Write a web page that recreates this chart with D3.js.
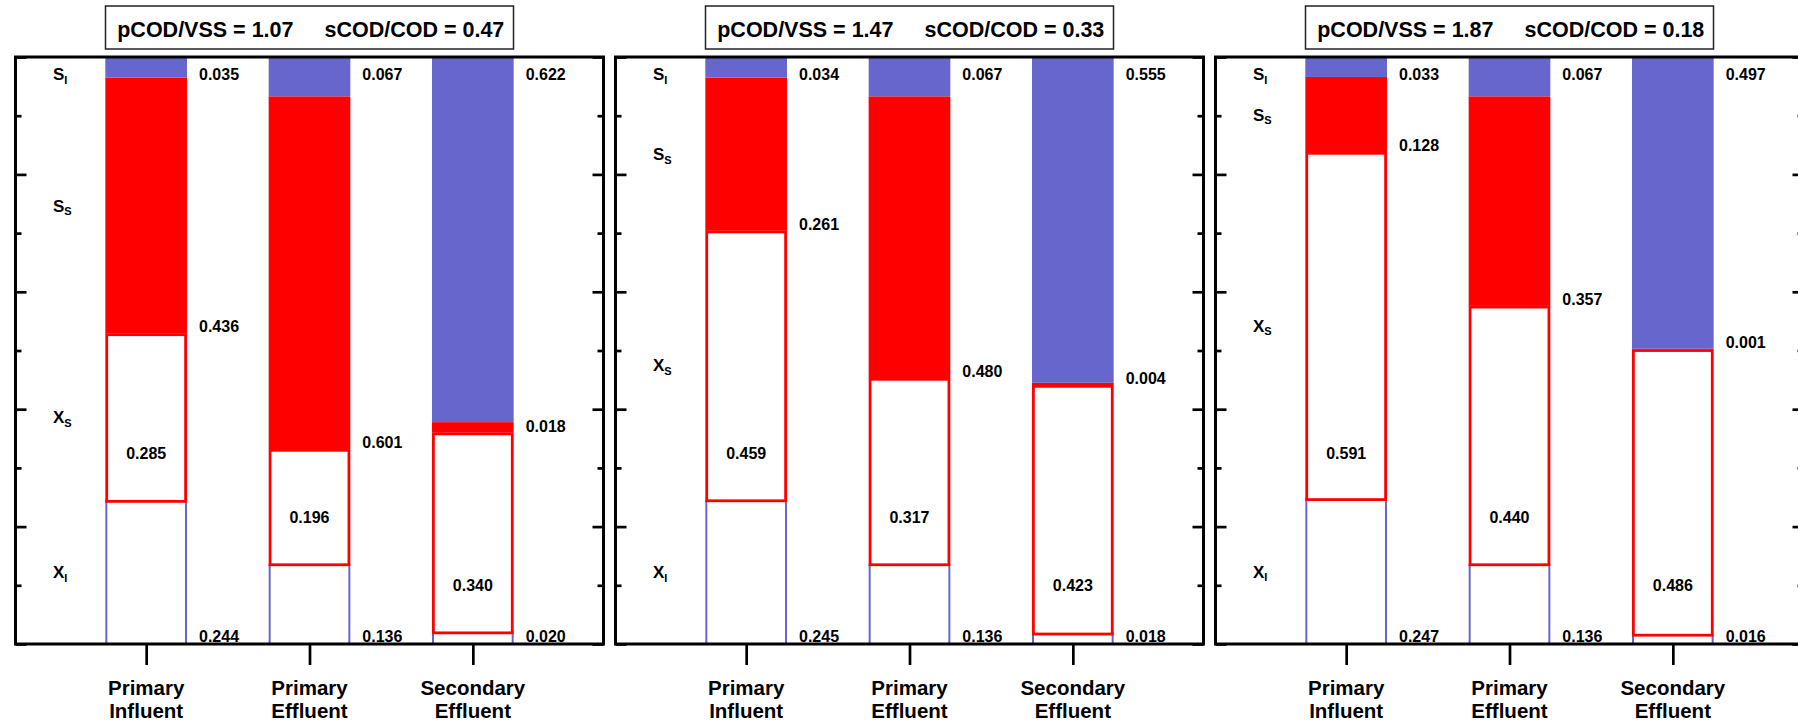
<!DOCTYPE html>
<html><head><meta charset="utf-8">
<script src="https://cdn.jsdelivr.net/npm/d3@7/dist/d3.min.js"></script>
<style>
body{margin:0;background:#fff}
svg{display:block}
text{font-family:"Liberation Sans",Arial,Helvetica,sans-serif;font-weight:bold;fill:#000}
</style>
</head><body>
<svg id="chart" width="1798" height="721"></svg>
<script>
// ---- data ----
const categories = ["Primary Influent", "Primary Effluent", "Secondary Effluent"];
const categoryLines = [["Primary", "Influent"], ["Primary", "Effluent"], ["Secondary", "Effluent"]];
const pCODVSS = ["1.07", "1.47", "1.87"];
const sCODCOD = ["0.47", "0.33", "0.18"];
// fractions per panel (rows) and category (columns), stacked bottom -> top
const XI = [[0.244, 0.136, 0.020], [0.245, 0.136, 0.018], [0.247, 0.136, 0.016]];
const XS = [[0.285, 0.196, 0.340], [0.459, 0.317, 0.423], [0.591, 0.440, 0.486]];
const SS = [[0.436, 0.601, 0.018], [0.261, 0.480, 0.004], [0.128, 0.357, 0.001]];
const SI = [[0.035, 0.067, 0.622], [0.034, 0.067, 0.555], [0.033, 0.067, 0.497]];
const speciesKeys = ["XI", "XS", "SS", "SI"];
const speciesLabels = [["X", "I"], ["X", "S"], ["S", "S"], ["S", "I"]];
const yMajorTicks = [0, 0.2, 0.4, 0.6, 0.8, 1.0];
const yMinorTicks = [0.1, 0.3, 0.5, 0.7, 0.9];

// ---- layout ----
const BLUE = "#6666cc", RED = "#ff0000";
const panelLeft0 = 15.5, panelStep = 600, panelW = 588;
const plotTop = 57, plotBottom = 644;
const innerLabelLevel = [0.325, 0.215, 0.1]; // where the X_S value sits inside each box

const svg = d3.select("#chart");
const y = d3.scaleLinear().domain([0, 1]).range([plotBottom, plotTop]);
const x = d3.scalePoint().domain(categories).range([0, panelW]).padding(0.8);
const barW = x.step() * 0.5;
const stack = d3.stack().keys(speciesKeys);

for (let p = 0; p < 3; p++) {
  const left = panelLeft0 + p * panelStep;
  const g = svg.append("g").attr("transform", `translate(${left},0)`);
  const rows = categories.map((c, j) => ({cat: c, XI: XI[p][j], XS: XS[p][j], SS: SS[p][j], SI: SI[p][j]}));
  const series = stack(rows);
  const byKey = {};
  series.forEach(s => byKey[s.key] = s);

  const bx = d => x(d.data.cat) - barW / 2;

  // X_I boxes: white with blue outline
  g.selectAll(".xi").data(byKey.XI).join("rect")
    .attr("x", d => bx(d) + 1).attr("width", barW - 2)
    .attr("y", d => y(d[1])).attr("height", d => y(d[0]) - y(d[1]))
    .attr("fill", "#fff").attr("stroke", BLUE).attr("stroke-width", 2);
  // S_S red fill
  g.selectAll(".ss").data(byKey.SS).join("rect")
    .attr("x", d => bx(d)).attr("width", barW)
    .attr("y", d => y(d[1])).attr("height", d => y(d[0]) - y(d[1]))
    .attr("fill", RED);
  // S_I blue fill
  g.selectAll(".si").data(byKey.SI).join("rect")
    .attr("x", d => bx(d)).attr("width", barW)
    .attr("y", d => y(d[1])).attr("height", d => y(d[0]) - y(d[1]))
    .attr("fill", BLUE);
  // X_S boxes: white with red outline
  g.selectAll(".xs").data(byKey.XS).join("rect")
    .attr("x", d => bx(d) + 1.4).attr("width", barW - 2.8)
    .attr("y", d => y(d[1]) + 1.2).attr("height", d => y(d[0]) - y(d[1]) - 0.6)
    .attr("fill", "#fff").attr("stroke", RED).attr("stroke-width", 2.8);

  // value labels
  const lx = d => x(d.data.cat) + barW / 2 + 12;
  const fmt = v => v.toFixed(3);
  g.selectAll(".lsi").data(byKey.SI).join("text")
    .attr("x", lx).attr("y", plotTop + 22.5).attr("font-size", 16)
    .text(d => fmt(d.data.SI));
  g.selectAll(".lss").data(byKey.SS).join("text")
    .attr("x", lx).attr("y", d => y(d[0]) - 1).attr("font-size", 16)
    .text(d => fmt(d.data.SS));
  g.selectAll(".lxi").data(byKey.XI).join("text")
    .attr("x", lx).attr("y", plotBottom - 2).attr("font-size", 16)
    .text(d => fmt(d.data.XI));
  g.selectAll(".lxs").data(byKey.XS).join("text")
    .attr("x", d => x(d.data.cat)).attr("text-anchor", "middle")
    .attr("y", (d, j) => y(innerLabelLevel[j]) + 5.5).attr("font-size", 16)
    .text(d => fmt(d.data.XS));

  // species labels at the left, beside the first bar's segments
  speciesKeys.forEach((k, i) => {
    const d = byKey[k][0];
    const cy = k === "SI" ? plotTop + 17 : (y(d[0]) + y(d[1])) / 2;
    const t = g.append("text").attr("x", 37.5).attr("y", cy + 6).attr("font-size", 17);
    t.append("tspan").text(speciesLabels[i][0]);
    t.append("tspan").attr("font-size", 11).attr("dy", 3.5).text(speciesLabels[i][1]);
  });

  // y ticks (inward, both sides)
  const axStyle = sel => { sel.select(".domain").remove(); sel.selectAll("line").attr("stroke", "#000").attr("stroke-width", 2.7); sel.selectAll("text").remove(); };
  g.append("g").call(d3.axisLeft(y).tickValues(yMajorTicks).tickSize(-11)).call(axStyle);
  g.append("g").call(d3.axisLeft(y).tickValues(yMinorTicks).tickSize(-6)).call(axStyle);
  g.append("g").attr("transform", `translate(${panelW},0)`).call(d3.axisRight(y).tickValues(yMajorTicks).tickSize(-11)).call(axStyle);
  g.append("g").attr("transform", `translate(${panelW},0)`).call(d3.axisRight(y).tickValues(yMinorTicks).tickSize(-6)).call(axStyle);
  // x ticks (outward)
  g.append("g").attr("transform", `translate(0,${plotBottom})`).call(d3.axisBottom(x).tickSize(21).tickFormat("")).call(axStyle);

  // frame
  g.append("rect").attr("x", 0).attr("y", plotTop).attr("width", panelW).attr("height", plotBottom - plotTop)
    .attr("fill", "none").attr("stroke", "#000").attr("stroke-width", 3);

  // category labels (two lines)
  categories.forEach((c, j) => {
    const t = g.append("text").attr("x", x(c)).attr("y", 694.5).attr("text-anchor", "middle").attr("font-size", 20.5);
    categoryLines[j].forEach((ln, k) => {
      t.append("tspan").attr("x", x(c)).attr("dy", k === 0 ? 0 : 23).text(ln);
    });
  });

  // title box
  const cx = panelW / 2;
  g.append("rect").attr("x", cx - 204).attr("y", 6).attr("width", 408).attr("height", 43)
    .attr("fill", "#fff").attr("stroke", "#222").attr("stroke-width", 1.5);
  g.append("text").attr("x", cx - 16).attr("y", 37).attr("text-anchor", "end").attr("font-size", 21.5)
    .text(`pCOD/VSS = ${pCODVSS[p]}`);
  g.append("text").attr("x", cx + 15).attr("y", 37).attr("text-anchor", "start").attr("font-size", 21.5)
    .text(`sCOD/COD = ${sCODCOD[p]}`);
}
</script>
</body></html>
